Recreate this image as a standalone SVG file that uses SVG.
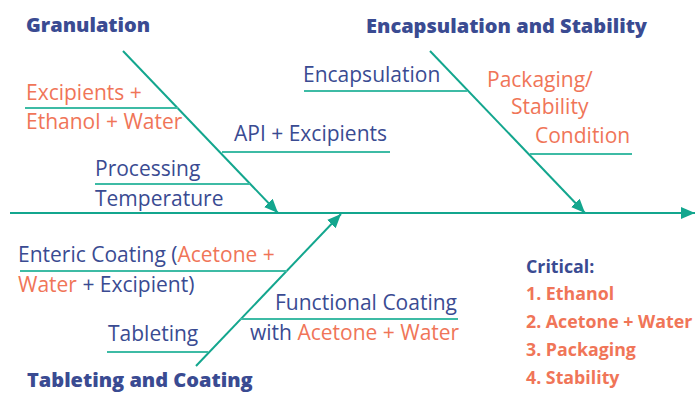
<svg xmlns="http://www.w3.org/2000/svg" width="695" height="393" viewBox="0 0 695 393">
  <style>
    .bone { stroke: #13a68e; stroke-width: 2; fill: none; }
    .rib { stroke: #3dbba5; stroke-width: 2; fill: none; }
    .t { font-family: "Open Sans", "Liberation Sans", sans-serif; font-size: 21px; }
    .blue { fill: #3a4b92; }
    .orange { fill: #f07558; }
    .title { font-family: "Open Sans", "Liberation Sans", sans-serif; font-size: 20px; font-weight: 800; fill: #3a4b92; }
    .crit { font-family: "Open Sans", "Liberation Sans", sans-serif; font-size: 17.8px; font-weight: 700; }
  </style>
  <defs>
    <marker id="head" viewBox="0 0 14 12" refX="14" refY="6" markerWidth="14" markerHeight="12" markerUnits="userSpaceOnUse" orient="auto">
      <path d="M0,0 L14,6 L0,12 Z" fill="#13a68e"/>
    </marker>
  </defs>

  <!-- spine and the three cause bones -->
  <g id="connectors">
    <line class="bone" x1="10" y1="213" x2="695" y2="213" marker-end="url(#head)"/>
    <line class="bone" x1="123" y1="51" x2="278" y2="213" marker-end="url(#head)"/>
    <line class="bone" x1="430" y1="51" x2="585" y2="213" marker-end="url(#head)"/>
    <line class="bone" x1="196" y1="366" x2="341" y2="214" marker-end="url(#head)"/>
  </g>

  <g id="granulation">
    <text class="title" x="26" y="32">Granulation</text>
    <g id="excipients-ethanol">
      <line class="rib" x1="25" y1="108" x2="178" y2="108"/>
      <text class="t orange" x="26" y="100">Excipients +</text>
      <text class="t orange" x="26" y="129">Ethanol + Water</text>
    </g>
    <g id="api-excipients">
      <line class="rib" x1="222" y1="152" x2="390" y2="152"/>
      <text class="t blue" x="234" y="141">API + Excipients</text>
    </g>
    <g id="processing-temperature">
      <line class="rib" x1="95" y1="184" x2="250" y2="184"/>
      <text class="t blue" x="95" y="176">Processing</text>
      <text class="t blue" x="95" y="206">Temperature</text>
    </g>
  </g>

  <g id="encapsulation-stability">
    <text class="title" x="366" y="33">Encapsulation and Stability</text>
    <g id="encapsulation">
      <line class="rib" x1="304" y1="91" x2="467" y2="91"/>
      <text class="t blue" x="303" y="82">Encapsulation</text>
    </g>
    <g id="packaging">
      <line class="rib" x1="530" y1="154" x2="632" y2="154"/>
      <text class="t orange" x="487" y="87">Packaging/</text>
      <text class="t orange" x="511" y="114">Stability</text>
      <text class="t orange" x="535" y="143">Condition</text>
    </g>
  </g>

  <g id="tableting-coating">
    <text class="title" x="27" y="387">Tableting and Coating</text>
    <g id="enteric-coating">
      <line class="rib" x1="20" y1="271" x2="287" y2="271"/>
      <text class="t blue" x="18" y="262">Enteric Coating (<tspan class="orange">Acetone +</tspan></text>
      <text class="t blue" x="18" y="292"><tspan class="orange">Water</tspan> + Excipient)</text>
    </g>
    <g id="functional-coating">
      <line class="rib" x1="240" y1="319" x2="458" y2="319"/>
      <text class="t blue" x="275" y="310">Functional Coating</text>
      <text class="t blue" x="250" y="340">with <tspan class="orange">Acetone + Water</tspan></text>
    </g>
    <g id="tableting">
      <line class="rib" x1="107" y1="352" x2="208" y2="352"/>
      <text class="t blue" x="108" y="341">Tableting</text>
    </g>
  </g>

  <g id="critical">
    <text class="crit blue" x="526" y="273">Critical:</text>
    <text class="crit orange" x="526" y="300">1. Ethanol</text>
    <text class="crit orange" x="526" y="328">2. Acetone + Water</text>
    <text class="crit orange" x="526" y="356">3. Packaging</text>
    <text class="crit orange" x="526" y="384">4. Stability</text>
  </g>
</svg>
